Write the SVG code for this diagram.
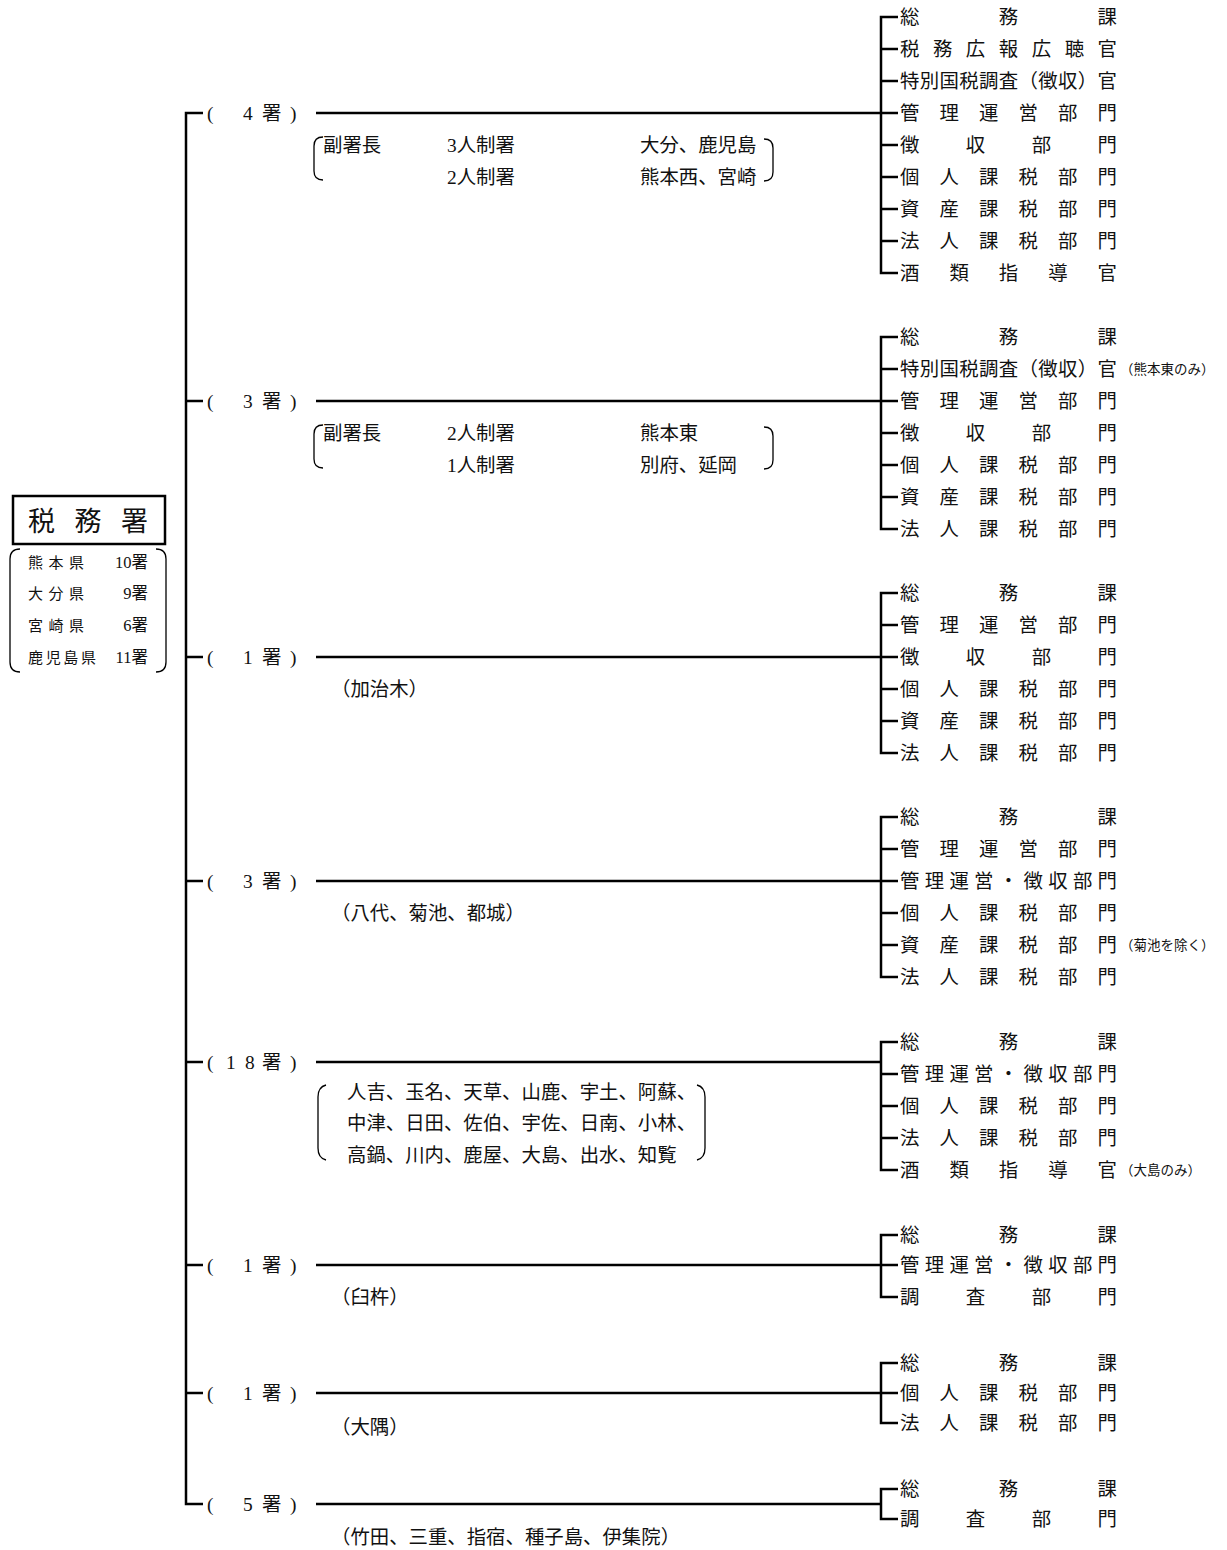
<svg xmlns="http://www.w3.org/2000/svg" width="1227" height="1550" viewBox="0 0 1227 1550">
<style>
text{font-family:"Liberation Serif","Noto Sans CJK JP",serif;fill:#111}
.t{font-size:19.4px}
.r{font-size:19.4px}
.n{font-size:13.5px}
.s{font-size:15px}
.d{font-size:16.5px}
.h{font-size:27px}
.ln{stroke:#000;stroke-width:2.5;fill:none}
.br{stroke:#000;stroke-width:1.3;fill:none}
</style>
<rect width="1227" height="1550" fill="#fff"/>
<g id="connectors">
<path class="ln" d="M203 113H186V1504H203M186 401H203M186 657H203M186 881H203M186 1062H203M186 1265H203M186 1393H203"/>
<path class="ln" d="M316 113H881M316 401H881M316 657H881M316 881H881M316 1062H881M316 1265H881M316 1393H881M316 1504H881"/>
<path class="ln" d="M898 17H881V273H898M881 49H898M881 81H898M881 113H898M881 145H898M881 177H898M881 209H898M881 241H898"/>
<path class="ln" d="M898 337H881V529H898M881 369H898M881 401H898M881 433H898M881 465H898M881 497H898"/>
<path class="ln" d="M898 593H881V753H898M881 625H898M881 657H898M881 689H898M881 721H898"/>
<path class="ln" d="M898 817H881V977H898M881 849H898M881 881H898M881 913H898M881 945H898"/>
<path class="ln" d="M898 1042H881V1170H898M881 1074H898M881 1106H898M881 1138H898"/>
<path class="ln" d="M898 1235H881V1297H898M881 1265H898"/>
<path class="ln" d="M898 1363H881V1423H898M881 1393H898"/>
<path class="ln" d="M898 1489H881V1519H898"/>
</g>
<g id="root">
<rect x="13" y="496" width="152" height="48" fill="none" stroke="#000" stroke-width="2.5"/>
<text class="h" x="28" y="531" textLength="120" lengthAdjust="spacing">税務署</text>
<path class="br" d="M20 549Q10 549 10 559V662Q10 672 20 672M156 549Q166 549 166 559V662Q166 672 156 672"/>
<text class="s" x="28" y="567.7" textLength="56" lengthAdjust="spacing">熊本県</text>
<text class="s" x="28" y="598.7" textLength="56" lengthAdjust="spacing">大分県</text>
<text class="s" x="28" y="630.7" textLength="56" lengthAdjust="spacing">宮崎県</text>
<text class="s" x="28" y="662.7" textLength="68" lengthAdjust="spacing">鹿児島県</text>
<text class="d" x="148" y="568" text-anchor="end">10署</text>
<text class="d" x="148" y="599" text-anchor="end">9署</text>
<text class="d" x="148" y="631" text-anchor="end">6署</text>
<text class="d" x="148" y="663" text-anchor="end">11署</text>
</g>
<g id="branch1">
<text class="t" x="207 243 262 290" y="120.4">(4署)</text>
<path class="br" d="M323 137Q314 137 314 146V171Q314 180 323 180M764 139Q773 139 773 148V172Q773 181 764 181"/>
<text class="t" x="323" y="152.4">副署長</text>
<text class="t" x="447" y="152.4">3人制署</text>
<text class="t" x="640" y="152.4">大分、鹿児島</text>
<text class="t" x="447" y="184.4">2人制署</text>
<text class="t" x="640" y="184.4">熊本西、宮崎</text>
<text class="r" x="900" y="24.4" textLength="217" lengthAdjust="spacing">総務課</text>
<text class="r" x="900" y="56.4" textLength="217" lengthAdjust="spacing">税務広報広聴官</text>
<text class="r" x="900" y="88.4" textLength="217" lengthAdjust="spacing">特別国税調査（徴収）官</text>
<text class="r" x="900" y="120.4" textLength="217" lengthAdjust="spacing">管理運営部門</text>
<text class="r" x="900" y="152.4" textLength="217" lengthAdjust="spacing">徴収部門</text>
<text class="r" x="900" y="184.4" textLength="217" lengthAdjust="spacing">個人課税部門</text>
<text class="r" x="900" y="216.4" textLength="217" lengthAdjust="spacing">資産課税部門</text>
<text class="r" x="900" y="248.4" textLength="217" lengthAdjust="spacing">法人課税部門</text>
<text class="r" x="900" y="280.4" textLength="217" lengthAdjust="spacing">酒類指導官</text>
</g>
<g id="branch2">
<text class="t" x="207 243 262 290" y="408.4">(3署)</text>
<path class="br" d="M323 425Q314 425 314 434V459Q314 468 323 468M764 427Q773 427 773 436V460Q773 469 764 469"/>
<text class="t" x="323" y="440.4">副署長</text>
<text class="t" x="447" y="440.4">2人制署</text>
<text class="t" x="640" y="440.4">熊本東</text>
<text class="t" x="447" y="472.4">1人制署</text>
<text class="t" x="640" y="472.4">別府、延岡</text>
<text class="r" x="900" y="344.4" textLength="217" lengthAdjust="spacing">総務課</text>
<text class="r" x="900" y="376.4" textLength="217" lengthAdjust="spacing">特別国税調査（徴収）官</text>
<text class="n" x="1120" y="374">（熊本東のみ）</text>
<text class="r" x="900" y="408.4" textLength="217" lengthAdjust="spacing">管理運営部門</text>
<text class="r" x="900" y="440.4" textLength="217" lengthAdjust="spacing">徴収部門</text>
<text class="r" x="900" y="472.4" textLength="217" lengthAdjust="spacing">個人課税部門</text>
<text class="r" x="900" y="504.4" textLength="217" lengthAdjust="spacing">資産課税部門</text>
<text class="r" x="900" y="536.4" textLength="217" lengthAdjust="spacing">法人課税部門</text>
</g>
<g id="branch3">
<text class="t" x="207 243 262 290" y="664.4">(1署)</text>
<text class="t" x="331" y="696.4">（加治木）</text>
<text class="r" x="900" y="600.4" textLength="217" lengthAdjust="spacing">総務課</text>
<text class="r" x="900" y="632.4" textLength="217" lengthAdjust="spacing">管理運営部門</text>
<text class="r" x="900" y="664.4" textLength="217" lengthAdjust="spacing">徴収部門</text>
<text class="r" x="900" y="696.4" textLength="217" lengthAdjust="spacing">個人課税部門</text>
<text class="r" x="900" y="728.4" textLength="217" lengthAdjust="spacing">資産課税部門</text>
<text class="r" x="900" y="760.4" textLength="217" lengthAdjust="spacing">法人課税部門</text>
</g>
<g id="branch4">
<text class="t" x="207 243 262 290" y="888.4">(3署)</text>
<text class="t" x="331" y="920.4">（八代、菊池、都城）</text>
<text class="r" x="900" y="824.4" textLength="217" lengthAdjust="spacing">総務課</text>
<text class="r" x="900" y="856.4" textLength="217" lengthAdjust="spacing">管理運営部門</text>
<text class="r" x="900" y="888.4" textLength="217" lengthAdjust="spacing">管理運営・徴収部門</text>
<text class="r" x="900" y="920.4" textLength="217" lengthAdjust="spacing">個人課税部門</text>
<text class="r" x="900" y="952.4" textLength="217" lengthAdjust="spacing">資産課税部門</text>
<text class="n" x="1120" y="950">（菊池を除く）</text>
<text class="r" x="900" y="984.4" textLength="217" lengthAdjust="spacing">法人課税部門</text>
</g>
<g id="branch5">
<text class="t" x="207 226 245 262 290" y="1069.4">(18署)</text>
<path class="br" d="M326 1085Q318 1087 318 1097V1148Q318 1158 326 1160M697 1085Q705 1087 705 1097V1148Q705 1158 697 1160"/>
<text class="t" x="347" y="1099.4">人吉、玉名、天草、山鹿、宇土、阿蘇、</text>
<text class="t" x="347" y="1130.4">中津、日田、佐伯、宇佐、日南、小林、</text>
<text class="t" x="347" y="1162.4">高鍋、川内、鹿屋、大島、出水、知覧</text>
<text class="r" x="900" y="1049.4" textLength="217" lengthAdjust="spacing">総務課</text>
<text class="r" x="900" y="1081.4" textLength="217" lengthAdjust="spacing">管理運営・徴収部門</text>
<text class="r" x="900" y="1113.4" textLength="217" lengthAdjust="spacing">個人課税部門</text>
<text class="r" x="900" y="1145.4" textLength="217" lengthAdjust="spacing">法人課税部門</text>
<text class="r" x="900" y="1177.4" textLength="217" lengthAdjust="spacing">酒類指導官</text>
<text class="n" x="1120" y="1175">（大島のみ）</text>
</g>
<g id="branch6">
<text class="t" x="207 243 262 290" y="1272.4">(1署)</text>
<text class="t" x="331" y="1304.4">（臼杵）</text>
<text class="r" x="900" y="1242.4" textLength="217" lengthAdjust="spacing">総務課</text>
<text class="r" x="900" y="1272.4" textLength="217" lengthAdjust="spacing">管理運営・徴収部門</text>
<text class="r" x="900" y="1304.4" textLength="217" lengthAdjust="spacing">調査部門</text>
</g>
<g id="branch7">
<text class="t" x="207 243 262 290" y="1400.4">(1署)</text>
<text class="t" x="331" y="1434.4">（大隅）</text>
<text class="r" x="900" y="1370.4" textLength="217" lengthAdjust="spacing">総務課</text>
<text class="r" x="900" y="1400.4" textLength="217" lengthAdjust="spacing">個人課税部門</text>
<text class="r" x="900" y="1430.4" textLength="217" lengthAdjust="spacing">法人課税部門</text>
</g>
<g id="branch8">
<text class="t" x="207 243 262 290" y="1511.4">(5署)</text>
<text class="t" x="331" y="1544.4">（竹田、三重、指宿、種子島、伊集院）</text>
<text class="r" x="900" y="1496.4" textLength="217" lengthAdjust="spacing">総務課</text>
<text class="r" x="900" y="1526.4" textLength="217" lengthAdjust="spacing">調査部門</text>
</g>
</svg>
